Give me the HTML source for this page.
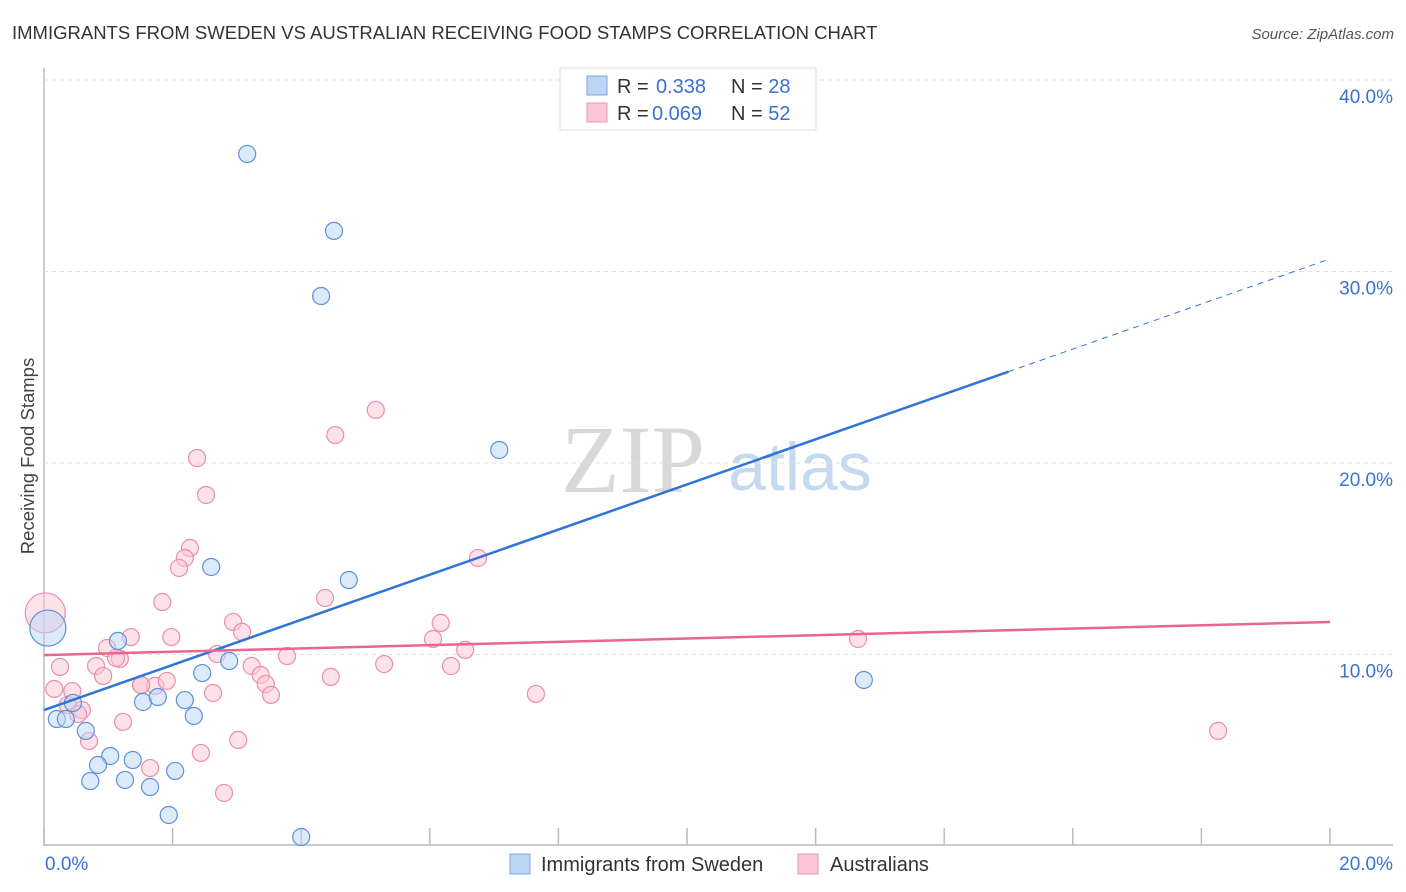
<!DOCTYPE html>
<html><head><meta charset="utf-8">
<style>
body{margin:0;background:#fff;font-family:"Liberation Sans",sans-serif;}
#wrap{position:relative;width:1406px;height:892px;overflow:hidden;}
</style></head>
<body>
<div id="wrap">
<svg id="svg" width="1406" height="892" xmlns="http://www.w3.org/2000/svg">
<text x="12" y="39" font-size="18.5" fill="#333">IMMIGRANTS FROM SWEDEN VS AUSTRALIAN RECEIVING FOOD STAMPS CORRELATION CHART</text>
<text x="1394" y="39" font-size="15" fill="#555" font-style="italic" text-anchor="end">Source: ZipAtlas.com</text>
<text x="34" y="456" font-size="18.5" fill="#444" text-anchor="middle" transform="rotate(-90 34 456)">Receiving Food Stamps</text>
<g>
<text x="633" y="492" font-size="96" font-family="Liberation Serif,serif" fill="#d8d8d8" text-anchor="middle">ZIP</text>
<text x="800" y="490" font-size="68" fill="#c6d9ef" text-anchor="middle">atlas</text>
</g>
<g id="grid"></g>
<g id="lines"></g>
<g id="points"></g>
<g>
<rect x="560" y="68" width="256" height="62" fill="#fff" stroke="#ddd"/>
<rect x="587" y="76" width="20" height="19" fill="#bcd5f5" stroke="#7aa6e0"/>
<rect x="587" y="103" width="20" height="19" fill="#fbc6d5" stroke="#ee96b0"/>
<text x="617" y="93" font-size="20" fill="#333">R = <tspan x="656" fill="#3a72d0">0.338</tspan><tspan x="731">N = </tspan><tspan fill="#3a72d0">28</tspan></text>
<text x="617" y="120" font-size="20" fill="#333">R = <tspan x="652" fill="#3a72d0">0.069</tspan><tspan x="731">N = </tspan><tspan fill="#3a72d0">52</tspan></text>
</g>
<g>
<rect x="510" y="854" width="20" height="20" fill="#bcd5f5" stroke="#7aa6e0"/>
<text x="541" y="871" font-size="20" fill="#333">Immigrants from Sweden</text>
<rect x="798" y="854" width="20" height="20" fill="#fbc6d5" stroke="#ee96b0"/>
<text x="830" y="871" font-size="20" fill="#333">Australians</text>
</g>
</svg>
</div>
<script>
const yTicks=[10,20,30,40];
const yTickLabels=["10.0%","20.0%","30.0%","40.0%"];
const xTickCount=10;
const xEndLabels=["0.0%","20.0%"];
const swedenX=[3.16,4.51,4.31,7.08,2.60,4.74,1.15,0.06,2.88,2.46,1.54,1.77,2.19,2.33,0.20,0.34,0.45,0.65,1.03,0.84,1.38,0.72,1.26,2.04,1.65,1.94,4.00,12.75];
const swedenY=[36.14,32.12,28.72,20.68,14.57,13.89,10.71,11.38,9.66,9.03,7.52,7.78,7.62,6.79,6.63,6.63,7.47,6.01,4.70,4.23,4.49,3.39,3.45,3.92,3.08,1.62,0.47,8.67];
const ausX=[0.02,5.16,4.53,2.38,2.52,2.27,2.19,2.10,6.75,1.84,4.37,2.94,3.08,1.98,1.35,0.98,1.18,6.17,6.05,6.55,12.66,3.78,2.69,0.25,0.81,3.23,3.37,5.29,6.33,0.92,4.46,3.45,1.51,1.73,1.91,2.63,3.53,7.65,0.44,0.16,0.37,0.59,0.53,1.23,0.70,3.02,2.44,1.65,2.80,18.26,1.12,1.51];
const ausY=[12.17,22.77,21.46,20.26,18.33,15.56,15.04,14.52,15.04,12.74,12.95,11.70,11.18,10.91,10.91,10.34,9.77,11.65,10.81,10.24,10.81,9.92,10.03,9.35,9.40,9.40,8.93,9.50,9.40,8.88,8.83,8.46,8.41,8.36,8.62,7.99,7.89,7.94,8.09,8.20,7.36,7.10,6.89,6.48,5.48,5.54,4.86,4.07,2.77,6.01,9.82,8.41];
const swedenFit=[7.1,1.178];   // intercept, slope
const ausFit=[9.97,0.0865];

const NS="http://www.w3.org/2000/svg";
const X0=44,X1=1330,Y0=846,PXY=19.15;
function sx(v){return X0+(v/20)*(X1-X0);}
function sy(v){return Y0-v*PXY;}
function mk(tag,attrs,parent){const e=document.createElementNS(NS,tag);for(const k in attrs)e.setAttribute(k,attrs[k]);parent.appendChild(e);return e;}
const grid=document.getElementById('grid'),lines=document.getElementById('lines'),pts=document.getElementById('points');
let a=mk('line',{x1:44,y1:68,x2:44,y2:846,stroke:'#bbb','stroke-width':1.5},grid);


a=mk('line',{x1:44,y1:845,x2:1393,y2:845,stroke:'#bbb','stroke-width':1.5},grid);


yTicks.forEach((t,i)=>{
  const g=mk('line',{x1:44,y1:sy(t),x2:1393,y2:sy(t),stroke:'#e0e0e0','stroke-dasharray':'4,4'},grid);
  
  
  const tx=mk('text',{x:1393,y:sy(t)+23,'font-size':19,fill:'#3a72d0','text-anchor':'end'},grid);
  tx.textContent=yTickLabels[i];
  
  
});
for(let i=0;i<=xTickCount;i++){
  const v=i*20/xTickCount;
  const t=mk('line',{x1:sx(v),y1:828,x2:sx(v),y2:845,stroke:'#bbb','stroke-width':1.5},grid);
  
  
}
[[0,'start',45],[20,'end',1393]].forEach((d,i)=>{
  const tx=mk('text',{x:d[2],y:870,'font-size':19,fill:'#3a72d0','text-anchor':d[1]},grid);
  tx.textContent=xEndLabels[i];
  
  
});
function dot(x,y,r,fill,stroke,name){
  const c=mk('circle',{cx:sx(x),cy:sy(y),r:r,fill:fill,'fill-opacity':0.5,stroke:stroke,'stroke-width':1.2},pts);
  
  
}
ausX.forEach((x,i)=>dot(x,ausY[i],i===0?20:8.5,'#fbc6d5','#ec8eab','point-australians'));
swedenX.forEach((x,i)=>dot(x,swedenY[i],i===7?18:8.5,'#bcd5f5','#5d90dd','point-sweden'));
let l=mk('line',{x1:sx(0),y1:sy(swedenFit[0]),x2:sx(15),y2:sy(swedenFit[0]+swedenFit[1]*15),stroke:'#2f74d8','stroke-width':2.5},lines);


l=mk('line',{x1:sx(15),y1:sy(swedenFit[0]+swedenFit[1]*15),x2:sx(20),y2:sy(swedenFit[0]+swedenFit[1]*20),stroke:'#2f74d8','stroke-width':1,'stroke-dasharray':'6,5'},lines);


l=mk('line',{x1:sx(0),y1:sy(ausFit[0]),x2:sx(20),y2:sy(ausFit[0]+ausFit[1]*20),stroke:'#e8668f','stroke-width':2.5},lines);


document.getElementById('svg').appendChild(lines);
</script>
</body></html>
